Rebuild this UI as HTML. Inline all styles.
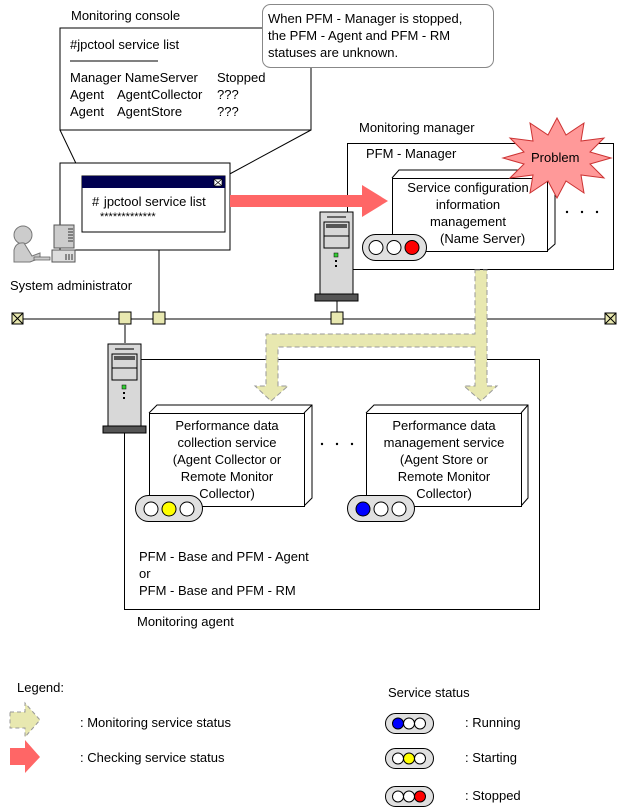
<!DOCTYPE html>
<html><head><meta charset="utf-8"><style>
html,body{margin:0;padding:0;background:#fff}
svg{display:block}
text{font-family:"Liberation Sans",sans-serif;font-size:13px;fill:#000}
</style></head><body>
<svg width="620" height="811" viewBox="0 0 620 811" xmlns="http://www.w3.org/2000/svg">
<defs>
<g id="srv">
<rect x="5" y="0" width="33" height="83" fill="#d8d8d8" stroke="#000"/>
<rect x="12" y="4" width="19" height="2" fill="#666"/>
<rect x="9" y="10" width="25" height="26" fill="#d8d8d8" stroke="#000"/>
<rect x="11" y="12" width="21" height="4" fill="#555"/>
<line x1="9" y1="24" x2="34" y2="24" stroke="#000"/>
<rect x="19" y="41" width="4" height="4" fill="#3c3" stroke="#000" stroke-width="0.5"/>
<rect x="20" y="48" width="2" height="2" fill="#000"/>
<rect x="20" y="53" width="2" height="2" fill="#000"/>
<rect x="0" y="82" width="43" height="7" fill="#555" stroke="#000"/>
</g>
</defs>

<!-- console callout -->
<text x="71" y="20">Monitoring console</text>
<rect x="60" y="28" width="251" height="102" fill="#fff" stroke="#000"/>
<text x="70" y="49">#jpctool service list</text>
<line x1="70" y1="61" x2="158" y2="61" stroke="#000"/>
<text x="70" y="82">Manager NameServer</text><text x="217" y="82">Stopped</text>
<text x="70" y="99">Agent</text><text x="117" y="99">AgentCollector</text><text x="217" y="99">???</text>
<text x="70" y="116">Agent</text><text x="117" y="116">AgentStore</text><text x="217" y="116">???</text>
<line x1="60" y1="130" x2="82" y2="176" stroke="#000"/>
<line x1="311" y1="130" x2="226" y2="176" stroke="#000"/>

<rect x="262.5" y="4.5" width="231" height="63" rx="8" fill="#fff" stroke="#888"/>
<text x="268" y="23">When PFM - Manager is stopped,</text>
<text x="268" y="40">the PFM - Agent and PFM - RM</text>
<text x="268" y="57">statuses are unknown.</text>

<rect x="60" y="163" width="170" height="87" fill="#fff" stroke="#000"/>
<rect x="82" y="176" width="143" height="56" fill="#fff" stroke="#000"/>
<rect x="82" y="176" width="143" height="12" fill="#000050"/>
<rect x="214" y="179" width="8" height="7" fill="#fff" stroke="#000" stroke-width="0.7"/>
<path d="M214 179 L222 186 M222 179 L214 186" stroke="#000" stroke-width="0.7"/>
<text x="92" y="206">#&#8202; jpctool service list</text>
<text x="100" y="220" style="font-size:11px">*************</text>

<!-- person -->
<circle cx="23" cy="235" r="9" fill="#ccc" stroke="#777"/>
<path d="M14 262 L14 250 Q16 242 24 243 L32 256 L40 253 L40 258 L30 262 Z" fill="#ccc" stroke="#777"/>
<rect x="34" y="257" width="16" height="3" fill="#ccc" stroke="#555" stroke-width="0.7"/>
<rect x="54" y="225" width="20" height="23" fill="#ccc" stroke="#555"/>
<path d="M68 229 L73 229 M68 232 L73 232 M68 235 L73 235 M68 238 L73 238 M68 241 L73 241" stroke="#333"/>
<rect x="52" y="250" width="23" height="12" fill="#ddd" stroke="#555"/>
<path d="M66 254 L66 260 M69 254 L69 260 M72 254 L72 260" stroke="#333"/>
<text x="10" y="290">System administrator</text>

<!-- network -->
<line x1="159" y1="250" x2="159" y2="313" stroke="#000"/>
<line x1="18" y1="319" x2="610" y2="319" stroke="#000"/>
<line x1="125" y1="325" x2="125" y2="343" stroke="#000"/>
<line x1="337" y1="301" x2="337" y2="313" stroke="#000"/>
<rect x="12" y="313" width="11" height="11" fill="#e8e8b0" stroke="#000"/>
<path d="M12 313 L23 324 M23 313 L12 324" stroke="#000"/>
<rect x="605" y="313" width="11" height="11" fill="#e8e8b0" stroke="#000"/>
<path d="M605 313 L616 324 M616 313 L605 324" stroke="#000"/>
<rect x="119" y="312" width="12" height="12" fill="#e8e8b0" stroke="#000"/>
<rect x="153" y="312" width="12" height="12" fill="#e8e8b0" stroke="#000"/>
<rect x="331" y="312" width="12" height="12" fill="#e8e8b0" stroke="#000"/>

<!-- manager -->
<text x="359" y="132">Monitoring manager</text>
<rect x="347.5" y="143.5" width="266" height="126" fill="#fff" stroke="#000"/>
<text x="366" y="158">PFM - Manager</text>
<path d="M392 178 L399 170 L555 170 L555 244 L547 251" fill="#fff" stroke="#000"/>
<line x1="547" y1="178" x2="555" y2="170" stroke="#000"/>
<rect x="392.5" y="178.5" width="155" height="73" fill="#fff" stroke="#000"/>
<text x="468" y="192" text-anchor="middle">Service configuration</text>
<text x="468" y="209" text-anchor="middle">information</text>
<text x="468" y="226" text-anchor="middle">management</text>
<text x="440" y="243">(Name Server)</text>
<rect x="362.5" y="234.5" width="64" height="26" rx="13" fill="#e0e0e0" stroke="#000"/>
<circle cx="376" cy="247.5" r="7" fill="#fff" stroke="#000"/>
<circle cx="394" cy="247.5" r="7" fill="#fff" stroke="#000"/>
<circle cx="412" cy="247.5" r="7" fill="#f00" stroke="#000"/>
<circle cx="567" cy="212" r="1.2"/><circle cx="582" cy="212" r="1.2"/><circle cx="597" cy="212" r="1.2"/>
<polygon points="611,158 590,164 604,178 581,175 584,193 566,181 557,198 548,181 530,193 533,175 510,178 524,164 503,158 524,152 510,138 533,141 530,123 548,135 557,118 566,135 584,123 581,141 604,138 590,152" fill="#f99" stroke="#c33"/>
<text x="531" y="162">Problem</text>
<use href="#srv" x="315" y="212"/>

<!-- red arrow -->
<polygon points="230,195 362,195 362,185 388,201 362,217 362,207 230,207" fill="#f66"/>

<!-- agent -->
<rect x="124.5" y="359.5" width="415" height="250" fill="#fff" stroke="#000"/>
<use href="#srv" x="103" y="344"/>

<!-- yellow arrow -->
<polygon points="475,270 487,270 487,386 497,386 481,401 464,386 475,386 475,347 278,347 278,386 288,386 271,401 255,386 266,386 266,334 475,334" fill="#e8e8b0" stroke="#999" stroke-dasharray="5,3"/>

<path d="M149 413 L157 405 L312 405 L312 498 L304 506" fill="#fff" stroke="#000"/>
<line x1="304" y1="413" x2="312" y2="405" stroke="#000"/>
<rect x="149.5" y="413.5" width="155" height="93" fill="#fff" stroke="#000"/>
<text x="227" y="430" text-anchor="middle">Performance data</text>
<text x="227" y="447" text-anchor="middle">collection service</text>
<text x="227" y="464" text-anchor="middle">(Agent Collector or</text>
<text x="227" y="481" text-anchor="middle">Remote Monitor</text>
<text x="227" y="498" text-anchor="middle">Collector)</text>
<rect x="135.5" y="495.5" width="67" height="26" rx="13" fill="#e0e0e0" stroke="#000"/>
<circle cx="151" cy="509" r="7" fill="#fff" stroke="#000"/>
<circle cx="169" cy="509" r="7" fill="#ff0" stroke="#000"/>
<circle cx="187" cy="509" r="7" fill="#fff" stroke="#000"/>
<circle cx="322" cy="444" r="1.2"/><circle cx="337" cy="444" r="1.2"/><circle cx="352" cy="444" r="1.2"/>

<path d="M366 413 L374 405 L528 405 L528 498 L521 506" fill="#fff" stroke="#000"/>
<line x1="521" y1="413" x2="528" y2="405" stroke="#000"/>
<rect x="366.5" y="413.5" width="155" height="93" fill="#fff" stroke="#000"/>
<text x="444" y="430" text-anchor="middle">Performance data</text>
<text x="444" y="447" text-anchor="middle">management service</text>
<text x="444" y="464" text-anchor="middle">(Agent Store or</text>
<text x="444" y="481" text-anchor="middle">Remote Monitor</text>
<text x="444" y="498" text-anchor="middle">Collector)</text>
<rect x="347.5" y="495.5" width="67" height="26" rx="13" fill="#e0e0e0" stroke="#000"/>
<circle cx="363" cy="509" r="7" fill="#00f" stroke="#000"/>
<circle cx="381" cy="509" r="7" fill="#fff" stroke="#000"/>
<circle cx="399" cy="509" r="7" fill="#fff" stroke="#000"/>

<text x="139" y="561">PFM - Base and PFM - Agent</text>
<text x="139" y="578">or</text>
<text x="139" y="595">PFM - Base and PFM - RM</text>
<text x="137" y="626">Monitoring agent</text>

<!-- legend -->
<text x="17" y="692">Legend:</text>
<polygon points="10,712 25,712 25,703 40,720 25,737 25,728 10,728" fill="#e8e8b0" stroke="#999" stroke-dasharray="4,3"/>
<text x="80" y="727">: Monitoring service status</text>
<polygon points="10,748 25,748 25,740 40,757 25,773 25,765 10,765" fill="#f66"/>
<text x="80" y="762">: Checking service status</text>
<text x="388" y="697">Service status</text>
<g>
<rect x="385.5" y="713.5" width="48" height="20" rx="10" fill="#e0e0e0" stroke="#000"/>
<circle cx="398" cy="723.5" r="5.5" fill="#00f" stroke="#000"/><circle cx="409" cy="723.5" r="5.5" fill="#fff" stroke="#000"/><circle cx="420" cy="723.5" r="5.5" fill="#fff" stroke="#000"/>
<rect x="385.5" y="748.5" width="48" height="20" rx="10" fill="#e0e0e0" stroke="#000"/>
<circle cx="398" cy="758.5" r="5.5" fill="#fff" stroke="#000"/><circle cx="409" cy="758.5" r="5.5" fill="#ff0" stroke="#000"/><circle cx="420" cy="758.5" r="5.5" fill="#fff" stroke="#000"/>
<rect x="385.5" y="786.5" width="48" height="20" rx="10" fill="#e0e0e0" stroke="#000"/>
<circle cx="398" cy="796.5" r="5.5" fill="#fff" stroke="#000"/><circle cx="409" cy="796.5" r="5.5" fill="#fff" stroke="#000"/><circle cx="420" cy="796.5" r="5.5" fill="#f00" stroke="#000"/>
</g>
<text x="465" y="727">: Running</text>
<text x="465" y="762">: Starting</text>
<text x="465" y="800">: Stopped</text>
</svg>
</body></html>
